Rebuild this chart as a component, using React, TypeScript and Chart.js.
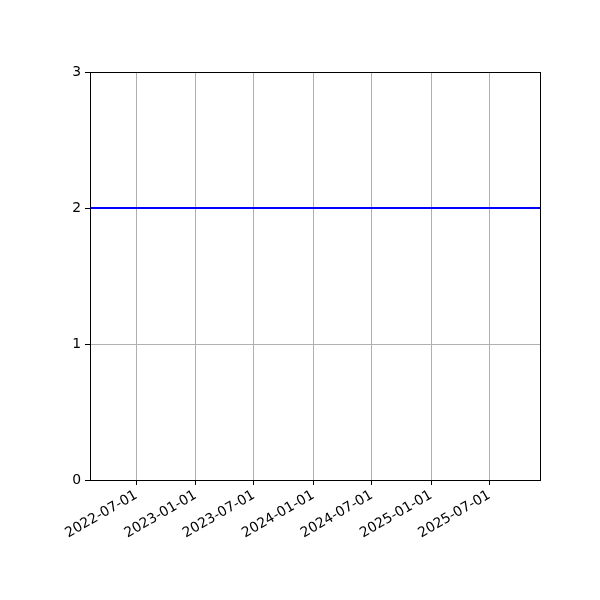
import { Chart, registerables } from "chart.js"
import { useEffect, useRef } from "react"

Chart.register(...registerables)

const DAY = 86400000

// x range and the single flat series
const X_START = Date.UTC(2022, 1, 7)
const X_END = Date.UTC(2025, 11, 5)
const SERIES_X = [X_START, X_END]
const SERIES_Y = [2, 2]

const X_TICKS = ["2022-07-01", "2023-01-01", "2023-07-01", "2024-01-01", "2024-07-01", "2025-01-01", "2025-07-01"]
const Y_TICKS = [0, 1, 2, 3]

const toTime = (s: string) => {
	const [y, m, d] = s.split("-").map(Number)
	return Date.UTC(y, m - 1, d)
}

const fmt = (t: number) => {
	const d = new Date(t)
	const mm = String(d.getUTCMonth() + 1).padStart(2, "0")
	const dd = String(d.getUTCDate()).padStart(2, "0")
	return `${d.getUTCFullYear()}-${mm}-${dd}`
}

const FONT = { family: "DejaVu Sans", size: 13.9 }

const frame = {
	id: "frame",
	afterDraw(chart: Chart) {
		const { ctx, chartArea: a } = chart
		ctx.save()
		ctx.strokeStyle = "#000"
		ctx.lineWidth = 1
		ctx.strokeRect(Math.round(a.left) + 0.5, Math.round(a.top) + 0.5, Math.round(a.right - a.left), Math.round(a.bottom - a.top))
		ctx.restore()
	},
}

export default function App() {
	const canvasRef = useRef<HTMLCanvasElement>(null)

	useEffect(() => {
		document.body.style.margin = "0"
		if (!canvasRef.current) return
		const chart = new Chart(canvasRef.current, {
			type: "line",
			data: {
				datasets: [
					{
						data: SERIES_X.map((x, i) => ({ x, y: SERIES_Y[i] })),
						borderColor: "#0000ff",
						borderWidth: 2,
						pointRadius: 0,
						tension: 0,
					},
				],
			},
			options: {
				animation: false,
				responsive: false,
				devicePixelRatio: 1,
				layout: { padding: { top: 72, right: 60, left: 0, bottom: 0 } },
				plugins: { legend: { display: false }, tooltip: { enabled: false } },
				scales: {
					x: {
						type: "linear",
						min: X_START,
						max: X_END,
						afterBuildTicks: (axis: any) => {
							axis.ticks = X_TICKS.map((s) => ({ value: toTime(s) }))
						},
						afterFit: (axis: any) => {
							axis.height = 120
						},
						ticks: {
							autoSkip: false,
							minRotation: 30,
							maxRotation: 30,
							color: "#000",
							font: FONT,
							padding: 2,
							callback: (v: any) => fmt(Number(v)),
						},
						grid: { color: "#b0b0b0", tickColor: "#000", tickLength: 5, lineWidth: 1 },
						border: { color: "#000", width: 1 },
					},
					y: {
						type: "linear",
						min: 0,
						max: 3,
						afterBuildTicks: (axis: any) => {
							axis.ticks = Y_TICKS.map((v) => ({ value: v }))
						},
						afterFit: (axis: any) => {
							axis.width = 90
						},
						ticks: { color: "#000", font: FONT, padding: 4 },
						grid: { color: "#b0b0b0", tickColor: "#000", tickLength: 5, lineWidth: 1 },
						border: { color: "#000", width: 1 },
					},
				},
			},
			plugins: [frame],
		})
		return () => chart.destroy()
	}, [])

	return (
		<div style={{ width: 600, height: 600, background: "#fff" }}>
			<canvas ref={canvasRef} width={600} height={600} />
		</div>
	)
}
